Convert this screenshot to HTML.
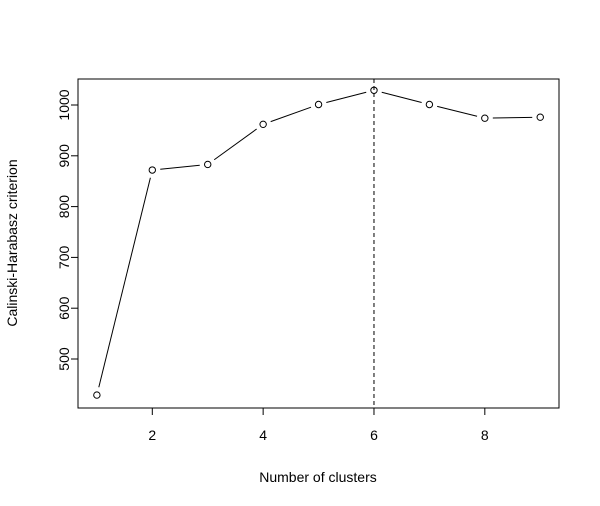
<!DOCTYPE html>
<html><head><meta charset="utf-8"><style>body{margin:0;background:#fff}svg{display:block;font-family:"Liberation Sans",Arial,sans-serif}</style></head>
<body>
<svg id="chart" width="600" height="506" viewBox="0 0 600 506" xmlns="http://www.w3.org/2000/svg">
<rect width="600" height="506" fill="#fff"/>
<g id="plot"></g>
</svg>
<script>
const clusters = [1,2,3,4,5,6,7,8,9];
const chValues = [429,872,883,962,1001,1029,1001,974,976];
const xTicks = [2,4,6,8];
const yTicks = [500,600,700,800,900,1000];
const optimalK = 6;

const NS="http://www.w3.org/2000/svg";
const g=document.getElementById('plot');
const L=78,R=559,T=79,B=408;
const x=v=>152.3+(v-2)*55.42;
const y=v=>105+(1000-v)*0.508;
function mk(t,a,p){const e=document.createElementNS(NS,t);for(const k in a)e.setAttribute(k,a[k]);(p||g).appendChild(e);return e;}

const box=mk('rect',{x:L,y:T,width:R-L,height:B-T,fill:'none',stroke:'#000','stroke-width':1});



xTicks.forEach(v=>{
  const t=mk('line',{x1:x(v),x2:x(v),y1:B,y2:B+7,stroke:'#000'});
  
  
  const l=mk('text',{x:x(v),y:B+32,'text-anchor':'middle','font-size':14});
  
  
  l.textContent=v;
});
yTicks.forEach(v=>{
  const t=mk('line',{x1:L-7,x2:L,y1:y(v),y2:y(v),stroke:'#000'});
  
  
  const l=mk('text',{x:L-14,y:y(v),'text-anchor':'middle','font-size':14,transform:`rotate(-90 ${L-14} ${y(v)})`,dy:'0.35em'});
  
  
  l.textContent=v;
});

const vl=mk('line',{x1:x(optimalK),x2:x(optimalK),y1:T,y2:B,stroke:'#000','stroke-dasharray':'4,3'});



for(let i=0;i<clusters.length-1;i++){
  const x1=x(clusters[i]),y1=y(chValues[i]),x2=x(clusters[i+1]),y2=y(chValues[i+1]);
  const d=Math.hypot(x2-x1,y2-y1),ux=(x2-x1)/d,uy=(y2-y1)/d,gap=8;
  if(d>2*gap){
    const s=mk('line',{x1:x1+ux*gap,y1:y1+uy*gap,x2:x2-ux*gap,y2:y2-uy*gap,stroke:'#000'});
    
    
  }
}
clusters.forEach((c,i)=>{
  const p=mk('circle',{cx:x(c),cy:y(chValues[i]),r:3.2,fill:'none',stroke:'#000'});
  
  
});

const xt=mk('text',{x:318,y:482,'text-anchor':'middle','font-size':14});


xt.textContent='Number of clusters';
const yt=mk('text',{x:17,y:243,'text-anchor':'middle','font-size':14,transform:'rotate(-90 17 243)'});


yt.textContent='Calinski-Harabasz criterion';
</script>
</body></html>
